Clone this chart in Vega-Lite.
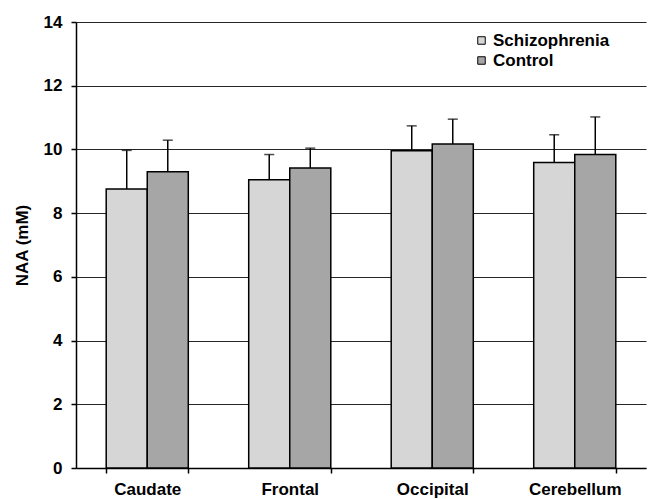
{
  "$schema": "https://vega.github.io/schema/vega-lite/v6.json",
  "width": 570,
  "height": 446,
  "autosize": {"type": "none"},
  "padding": {"left": 76, "top": 22, "right": 5, "bottom": 31},
  "background": "white",
  "config": {
    "font": "Liberation Sans",
    "view": {"stroke": null},
    "axis": {"labelFont": "Liberation Sans", "titleFont": "Liberation Sans", "labelColor": "black", "titleColor": "black"}
  },
  "data": {
    "values": [
      {"region": "Caudate", "group": "Schizophrenia", "naa": 8.76, "upper": 9.97},
      {"region": "Caudate", "group": "Control", "naa": 9.30, "upper": 10.29},
      {"region": "Frontal", "group": "Schizophrenia", "naa": 9.05, "upper": 9.84},
      {"region": "Frontal", "group": "Control", "naa": 9.42, "upper": 10.04},
      {"region": "Occipital", "group": "Schizophrenia", "naa": 9.96, "upper": 10.74},
      {"region": "Occipital", "group": "Control", "naa": 10.17, "upper": 10.95},
      {"region": "Cerebellum", "group": "Schizophrenia", "naa": 9.59, "upper": 10.46},
      {"region": "Cerebellum", "group": "Control", "naa": 9.84, "upper": 11.02}
    ]
  },
  "encoding": {
    "x": {
      "field": "region", "type": "nominal",
      "sort": ["Caudate", "Frontal", "Occipital", "Cerebellum"],
      "scale": {"paddingInner": 0.424, "paddingOuter": 0.212},
      "axis": {
        "title": null, "labelAngle": 0, "labelFontWeight": "bold", "labelFontSize": 17,
        "labelPadding": 8, "tickBand": "extent", "tickSize": 5, "tickColor": "black",
        "domainColor": "black", "domainWidth": 1.5, "tickWidth": 1.5
      }
    },
    "xOffset": {"field": "group", "type": "nominal", "sort": ["Schizophrenia", "Control"]}
  },
  "layer": [
    {
      "mark": {"type": "rule", "color": "black", "strokeWidth": 1.5},
      "encoding": {
        "y": {"field": "naa", "type": "quantitative"},
        "y2": {"field": "upper"}
      }
    },
    {
      "mark": {"type": "tick", "color": "black", "size": 10, "thickness": 1.5},
      "encoding": {
        "y": {"field": "upper", "type": "quantitative"}
      }
    },
    {
      "mark": {"type": "bar", "stroke": "black", "strokeWidth": 1.5},
      "encoding": {
        "y": {
          "field": "naa", "type": "quantitative",
          "scale": {"domain": [0, 14], "nice": false},
          "axis": {
            "title": "NAA (mM)", "titleFontWeight": "bold", "titleFontSize": 17, "titlePadding": 12,
            "values": [0, 2, 4, 6, 8, 10, 12, 14], "labelFontWeight": "bold", "labelFontSize": 17,
            "grid": true, "gridColor": "black", "gridWidth": 1, "gridOpacity": 0.85,
            "tickColor": "black", "tickSize": 5, "tickWidth": 1.5,
            "domainColor": "black", "domainWidth": 1.5, "labelPadding": 9
          }
        },
        "color": {
          "field": "group", "type": "nominal",
          "sort": ["Schizophrenia", "Control"],
          "scale": {"domain": ["Schizophrenia", "Control"], "range": ["#d6d6d6", "#a6a6a6"]},
          "legend": {
            "title": null, "orient": "none", "legendX": 397, "legendY": 10,
            "symbolType": "square", "symbolSize": 56, "symbolStrokeColor": "black", "symbolStrokeWidth": 1,
            "labelFontSize": 17, "labelFontWeight": "bold", "labelColor": "black", "labelOffset": 3,
            "rowPadding": 2
          }
        }
      }
    }
  ]
}
